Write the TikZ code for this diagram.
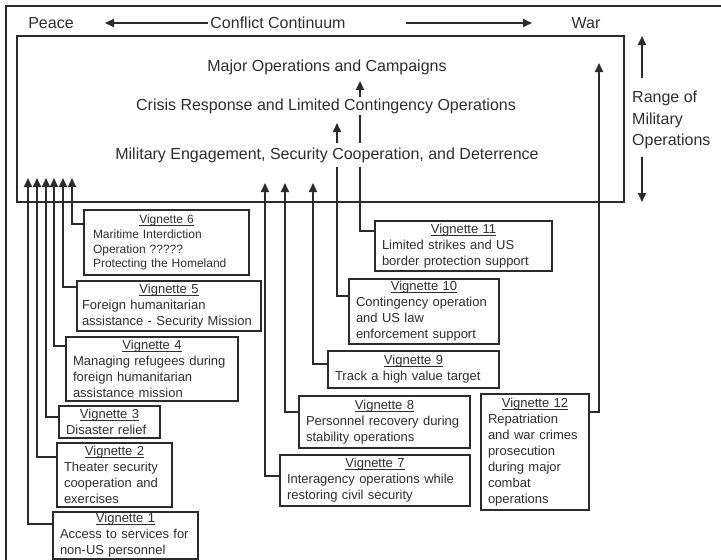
\documentclass[tikz,border=0pt]{standalone}
\usepackage{fontspec}
\setmainfont{Liberation Sans}
\usetikzlibrary{arrows.meta}
\definecolor{ink}{HTML}{2B2B2B}
\definecolor{txt}{HTML}{2E2E2E}
\newcommand{\vhead}[1]{\hfill\setbox0\hbox{Vignette #1}\rlap{\rule[-2pt]{\wd0}{0.7pt}}\box0\hfill\null}
\tikzset{
	lbl/.style = {text=txt, inner sep=2pt, font=\fontsize{16}{21.5}\selectfont},
	lvl/.style = {lbl, fill=white, inner xsep=3pt, text height=11.5pt, text depth=3.5pt},
	vig/.style = {draw=ink, line width=2pt, anchor=north west, align=left, text=txt,
		inner xsep=7pt, inner ysep=0pt, font=\fontsize{13}{16}\selectfont},
	frame/.style = {draw=ink, line width=2pt},
	conn/.style = {draw=ink, line width=1.9pt, -{Triangle[length=9pt,width=8pt]}}
}

\begin{document}
\begin{tikzpicture}[x=1pt, y=-1pt]
		\useasboundingbox (0,0) rectangle (721,560);
		% frame and range box
		\draw[frame] (6,562) -- (6,6) -- (723,6);
		\draw[frame] (17,36) rectangle (624,202);

		% top row
		\node [lbl] (peace) at (51,23) {Peace};
		\node [lbl] (conflict) at (278,23) {Conflict Continuum};
		\node [lbl] (war) at (586,23) {War};
		\coordinate (la) at (105,23);
		\coordinate (rb) at (406,23);
		\coordinate (ra) at (532,23);
		\draw[conn] (conflict.west) -- (la);
		\draw[conn] (rb) -- (ra);

		% range of military operations
		\node [lbl, anchor=west, align=left] (range) at (630,120) {Range of\\Military\\Operations};
		\coordinate (r1) at (642,78);
		\coordinate (r2) at (642,36);
		\coordinate (r3) at (642,157);
		\coordinate (r4) at (642,202);
		\draw[conn] (r1) -- (r2);
		\draw[conn] (r3) -- (r4);

		% vignettes
		\node [vig, text width=131pt, minimum height=47pt] (v1) at (52,511)
			{\vhead{1}\\Access to services for\\non-US personnel};
		\node [vig, text width=101pt, minimum height=64pt] (v2) at (56,442)
			{\vhead{2}\\Theater security\\cooperation and\\exercises};
		\node [vig, text width=87pt, minimum height=32pt] (v3) at (58,405)
			{\vhead{3}\\Disaster relief};
		\node [vig, text width=158pt, minimum height=64pt] (v4) at (65,336)
			{\vhead{4}\\Managing refugees during\\foreign humanitarian\\assistance mission};
		\node [vig, inner xsep=5pt, text width=174pt, minimum height=50pt] (v5) at (76,280)
			{\vhead{5}\\Foreign humanitarian\\assistance - Security Mission};
		\node [vig, inner xsep=9pt, text width=147pt, minimum height=65pt,
			font=\fontsize{12}{14.8}\selectfont] (v6) at (83,209)
			{\vhead{6}\\Maritime Interdiction\\Operation ?????\\Protecting the Homeland};
		\node [vig, text width=176pt, minimum height=51pt] (v7) at (279,454)
			{\vhead{7}\\Interagency operations while\\restoring civil security};
		\node [vig, text width=157pt, minimum height=52pt] (v8) at (298,395)
			{\vhead{8}\\Personnel recovery during\\stability operations};
		\node [vig, text width=157pt, minimum height=37pt] (v9) at (327,350)
			{\vhead{9}\\Track a high value target};
		\node [vig, text width=136pt, minimum height=65pt] (v10) at (348,278)
			{\vhead{10}\\Contingency operation\\and US law\\enforcement support};
		\node [vig, text width=163pt, minimum height=50pt] (v11) at (374,220)
			{\vhead{11}\\Limited strikes and US\\border protection support};
		\node [vig, text width=94pt, minimum height=116pt] (v12) at (480,393)
			{\vhead{12}\\Repatriation\\and war crimes\\prosecution\\during major\\combat\\operations};

		% arrow ends
		\coordinate (t1) at (28,178);
		\coordinate (t2) at (37,178);
		\coordinate (t3) at (46,178);
		\coordinate (t4) at (54,178);
		\coordinate (t5) at (63,178);
		\coordinate (t6) at (72,178);
		\coordinate (t7) at (265,183);
		\coordinate (t8) at (285,183);
		\coordinate (t9) at (313,183);
		\coordinate (t10) at (337,123);
		\coordinate (t11) at (360,81);
		\coordinate (t12) at (599,63);

		% connectors
		\draw[conn] (v1.west |- 0,524) -| (t1);
		\draw[conn] (v2.west |- 0,457) -| (t2);
		\draw[conn] (v3.west |- 0,417) -| (t3);
		\draw[conn] (v4.west |- 0,346) -| (t4);
		\draw[conn] (v5.west |- 0,287) -| (t5);
		\draw[conn] (v6.west |- 0,224) -| (t6);
		\draw[conn] (v7.west |- 0,476) -| (t7);
		\draw[conn] (v8.west |- 0,412) -| (t8);
		\draw[conn] (v9.west |- 0,364) -| (t9);
		\draw[conn] (v10.west |- 0,296) -| (t10);
		\draw[conn] (v11.west |- 0,231) -| (t11);
		\draw[conn] (v12.east |- 0,412) -| (t12);

		% levels
		\node [lvl] (major) at (327,67) {Major Operations and Campaigns};
		\node [lvl, inner ysep=1.5pt] (crisis) at (326,106) {Crisis Response and Limited Contingency Operations};
		\node [lvl, inner ysep=4.5pt] (milit) at (327,155) {Military Engagement, Security Cooperation, and Deterrence};
\end{tikzpicture}
\end{document}
